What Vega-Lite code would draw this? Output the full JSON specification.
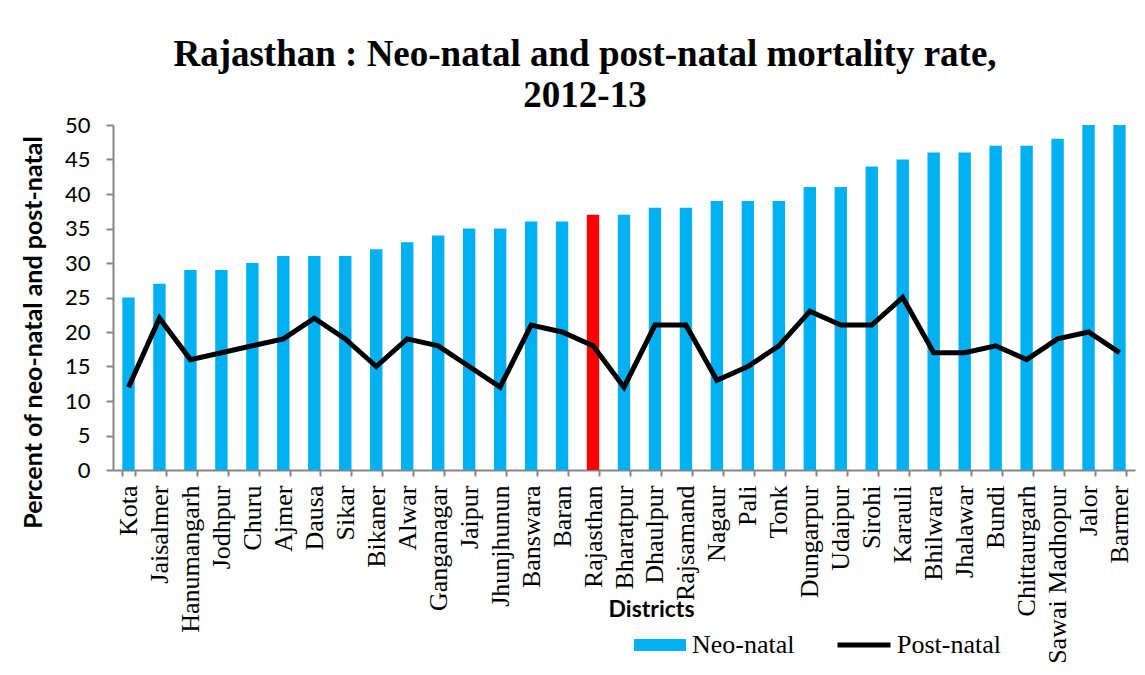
{
  "$schema": "https://vega.github.io/schema/vega-lite/v6.json",
  "width": 1022,
  "height": 345,
  "autosize": {"type": "none"},
  "padding": {"left": 113, "top": 125, "right": 10, "bottom": 205},
  "background": "white",
  "title": {
    "text": ["Rajasthan : Neo-natal and post-natal mortality rate,", "2012-13"],
    "font": "Liberation Serif",
    "fontSize": 37,
    "fontWeight": "bold",
    "color": "black",
    "lineHeight": 41,
    "anchor": "middle",
    "dx": -39,
    "offset": -1
  },
  "data": {
    "values": [
      {"district": "Kota", "neo": 25, "post": 12},
      {"district": "Jaisalmer", "neo": 27, "post": 22},
      {"district": "Hanumangarh", "neo": 29, "post": 16},
      {"district": "Jodhpur", "neo": 29, "post": 17},
      {"district": "Churu", "neo": 30, "post": 18},
      {"district": "Ajmer", "neo": 31, "post": 19},
      {"district": "Dausa", "neo": 31, "post": 22},
      {"district": "Sikar", "neo": 31, "post": 19},
      {"district": "Bikaner", "neo": 32, "post": 15},
      {"district": "Alwar", "neo": 33, "post": 19},
      {"district": "Ganganagar", "neo": 34, "post": 18},
      {"district": "Jaipur", "neo": 35, "post": 15},
      {"district": "Jhunjhunun", "neo": 35, "post": 12},
      {"district": "Banswara", "neo": 36, "post": 21},
      {"district": "Baran", "neo": 36, "post": 20},
      {"district": "Rajasthan", "neo": 37, "post": 18},
      {"district": "Bharatpur", "neo": 37, "post": 12},
      {"district": "Dhaulpur", "neo": 38, "post": 21},
      {"district": "Rajsamand", "neo": 38, "post": 21},
      {"district": "Nagaur", "neo": 39, "post": 13},
      {"district": "Pali", "neo": 39, "post": 15},
      {"district": "Tonk", "neo": 39, "post": 18},
      {"district": "Dungarpur", "neo": 41, "post": 23},
      {"district": "Udaipur", "neo": 41, "post": 21},
      {"district": "Sirohi", "neo": 44, "post": 21},
      {"district": "Karauli", "neo": 45, "post": 25},
      {"district": "Bhilwara", "neo": 46, "post": 17},
      {"district": "Jhalawar", "neo": 46, "post": 17},
      {"district": "Bundi", "neo": 47, "post": 18},
      {"district": "Chittaurgarh", "neo": 47, "post": 16},
      {"district": "Sawai Madhopur", "neo": 48, "post": 19},
      {"district": "Jalor", "neo": 50, "post": 20},
      {"district": "Barmer", "neo": 50, "post": 17}
    ]
  },
  "encoding": {
    "x": {
      "field": "district",
      "type": "nominal",
      "sort": null,
      "scale": {"paddingInner": 0.6, "paddingOuter": 0.3},
      "axis": {
        "title": "Districts",
        "titleFont": "Lato",
        "titleFontSize": 23,
        "titleFontWeight": "bold",
        "titleColor": "black",
        "titleX": 538,
        "titleY": 128,
        "labelAngle": -90,
        "labelAlign": "right",
        "labelBaseline": "middle",
        "labelFont": "Liberation Serif",
        "labelFontSize": 26,
        "labelColor": "black",
        "labelPadding": 9,
        "labelOverlap": false,
        "labelLimit": 300,
        "tickBand": "extent",
        "tickColor": "#868686",
        "tickWidth": 2,
        "tickSize": 6,
        "domainColor": "#868686",
        "domainWidth": 2,
        "grid": false
      }
    }
  },
  "layer": [
    {
      "mark": {"type": "bar"},
      "encoding": {
        "y": {
          "field": "neo",
          "type": "quantitative",
          "scale": {"domain": [0, 50], "nice": false},
          "axis": {
            "title": "Percent of  neo-natal and post-natal",
            "titleFont": "Lato",
            "titleFontSize": 25,
            "titleFontWeight": "bold",
            "titleColor": "black",
            "titleX": -67,
            "titleY": 207,
            "values": [0, 5, 10, 15, 20, 25, 30, 35, 40, 45, 50],
            "labelOverlap": false,
            "labelFont": "Lato",
            "labelFontSize": 22,
            "labelColor": "black",
            "labelPadding": 16,
            "tickColor": "#868686",
            "tickWidth": 2,
            "tickSize": 7,
            "domainColor": "#868686",
            "domainWidth": 2,
            "grid": false
          }
        },
        "fill": {
          "condition": {"test": "datum.district === 'Rajasthan'", "value": "#ff0000"},
          "datum": "Neo-natal",
          "scale": {"domain": ["Neo-natal"], "range": ["#00b0f0"]},
          "legend": {
            "title": null,
            "orient": "none",
            "legendX": 521,
            "legendY": 494,
            "symbolType": "M-1,-0.23H1V0.23H-1Z",
            "symbolSize": 2704,
            "symbolStrokeWidth": 0,
            "labelFont": "Liberation Serif",
            "labelFontSize": 26,
            "labelColor": "black",
            "labelOffset": 6
          }
        }
      }
    },
    {
      "mark": {"type": "line", "strokeWidth": 5},
      "encoding": {
        "y": {
          "field": "post",
          "type": "quantitative",
          "scale": {"domain": [0, 50], "nice": false},
          "axis": {
            "title": "Percent of  neo-natal and post-natal",
            "titleFont": "Lato",
            "titleFontSize": 25,
            "titleFontWeight": "bold",
            "titleColor": "black",
            "titleX": -67,
            "titleY": 207,
            "values": [0, 5, 10, 15, 20, 25, 30, 35, 40, 45, 50],
            "labelOverlap": false,
            "labelFont": "Lato",
            "labelFontSize": 22,
            "labelColor": "black",
            "labelPadding": 16,
            "tickColor": "#868686",
            "tickWidth": 2,
            "tickSize": 7,
            "domainColor": "#868686",
            "domainWidth": 2,
            "grid": false
          }
        },
        "stroke": {
          "datum": "Post-natal",
          "scale": {"domain": ["Post-natal"], "range": ["black"]},
          "legend": {
            "title": null,
            "orient": "none",
            "legendX": 722,
            "legendY": 491,
            "symbolType": "stroke",
            "symbolSize": 2809,
            "symbolStrokeWidth": 5,
            "labelFont": "Liberation Serif",
            "labelFontSize": 26,
            "labelColor": "black",
            "labelOffset": 4
          }
        }
      }
    }
  ],
  "config": {
    "view": {"stroke": null}
  }
}
